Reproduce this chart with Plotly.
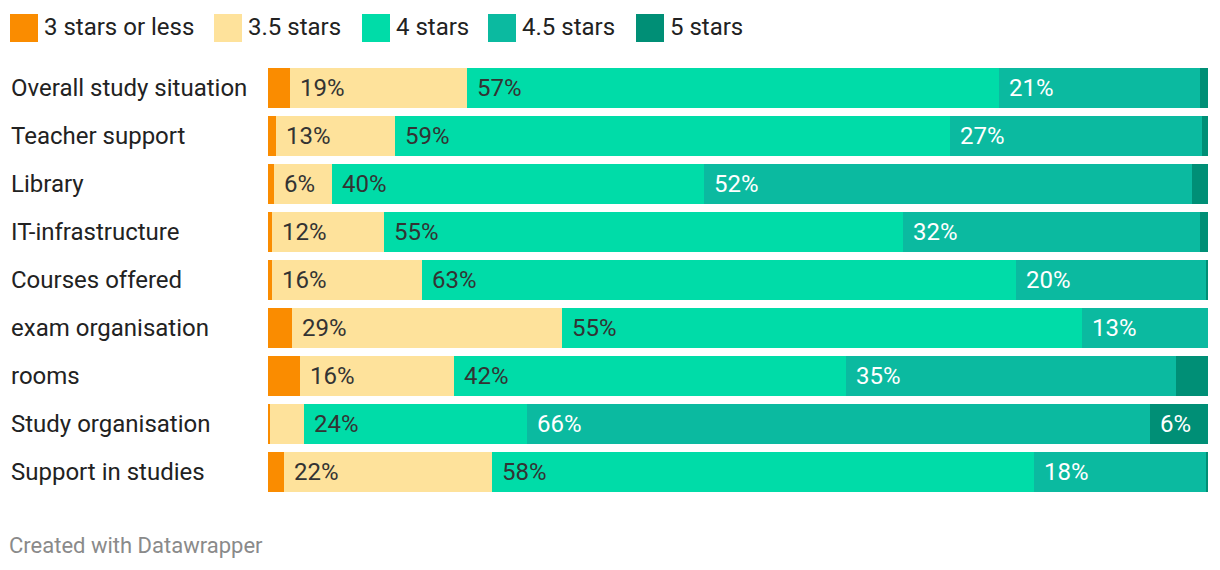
import plotly.graph_objects as go

categories = [
    "Overall study situation",
    "Teacher support",
    "Library",
    "IT-infrastructure",
    "Courses offered",
    "exam organisation",
    "rooms",
    "Study organisation",
    "Support in studies",
]

series_names = ["3 stars or less", "3.5 stars", "4 stars", "4.5 stars", "5 stars"]

stars_3_or_less = [2.3, 0.9, 0.6, 0.4, 0.4, 2.6, 3.4, 0.2, 1.7]
stars_3_5 = [18.9, 12.6, 6.2, 11.9, 16.0, 28.7, 16.4, 3.6, 22.1]
stars_4 = [56.6, 59.1, 39.6, 55.3, 63.2, 55.3, 41.7, 23.8, 57.7]
stars_4_5 = [21.3, 26.8, 51.9, 31.6, 20.2, 13.4, 35.1, 66.2, 18.3]
stars_5 = [0.9, 0.6, 1.7, 0.8, 0.2, 0.2, 3.4, 6.2, 0.2]

series_values = [stars_3_or_less, stars_3_5, stars_4, stars_4_5, stars_5]
colors = ["#fa8c00", "#fee29b", "#00dca8", "#0bbaa0", "#008f76"]
label_colors = ["#333333", "#333333", "#333333", "#ffffff", "#ffffff"]

FONT = "Roboto"
W, H = 1220, 570
X0, X1 = 268, 1208
T, B = 64, 496

fig = go.Figure()
for name, vals, col in zip(series_names, series_values, colors):
    fig.add_trace(go.Bar(
        name=name, y=categories, x=vals, orientation="h",
        marker=dict(color=col, line=dict(width=0)),
        hoverinfo="skip", showlegend=False,
    ))

annotations = []
# segment labels
for i, cat in enumerate(categories):
    start = 0.0
    for s, vals in enumerate(series_values):
        v = vals[i]
        if v >= 5:
            annotations.append(dict(
                x=start, y=cat, xref="x", yref="y", text=f"{round(v)}%",
                showarrow=False, xanchor="left", yanchor="middle", xshift=8,
                font=dict(family=FONT, size=24, color=label_colors[s]),
            ))
        start += v

# category labels
for cat in categories:
    annotations.append(dict(
        x=12 / W, y=cat, xref="paper", yref="y", text=cat, showarrow=False,
        xanchor="left", yanchor="middle", xshift=-3,
        font=dict(family=FONT, size=24, color="#222222"),
    ))

def py(px):
    return (B - px) / (B - T)

# legend
legend_x = [10, 214, 362, 488, 636]
shapes = []
for name, col, lx in zip(series_names, colors, legend_x):
    shapes.append(dict(
        type="rect", xref="paper", yref="paper",
        x0=lx / W, x1=(lx + 28) / W, y0=py(42), y1=py(14),
        fillcolor=col, line=dict(width=0),
    ))
    annotations.append(dict(
        x=(lx + 32) / W, y=py(27), xref="paper", yref="paper", text=name,
        showarrow=False, xanchor="left", yanchor="middle",
        font=dict(family=FONT, size=24, color="#222222"),
    ))

# footer
annotations.append(dict(
    x=10 / W, y=py(545), xref="paper", yref="paper",
    text="Created with Datawrapper", showarrow=False,
    xanchor="left", yanchor="middle", xshift=-3,
    font=dict(family=FONT, size=22, color="#8a8a8a"),
))

fig.update_layout(
    width=W, height=H,
    margin=dict(l=0, r=0, t=T, b=H - B, pad=0),
    barmode="stack", bargap=8 / 48,
    paper_bgcolor="white", plot_bgcolor="white",
    xaxis=dict(domain=[X0 / W, X1 / W], range=[0, 100], visible=False, fixedrange=True),
    yaxis=dict(categoryorder="array", categoryarray=categories, autorange="reversed",
               visible=False, fixedrange=True),
    annotations=annotations, shapes=shapes, showlegend=False,
)

fig.write_html(
    "out.html",
    config={"displayModeBar": False},
    post_script="document.body.style.margin='0';document.body.style.overflow='hidden';",
)
